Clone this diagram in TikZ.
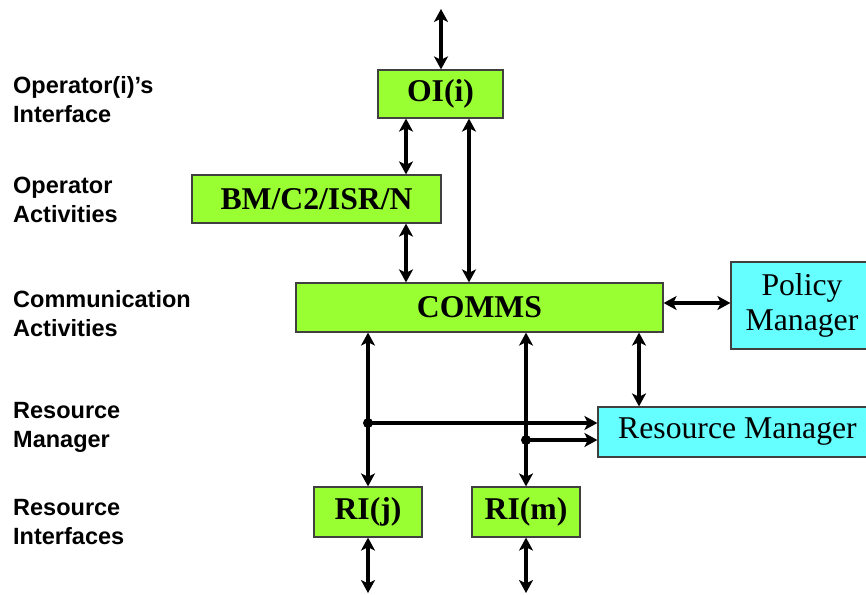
\documentclass[tikz,border=0pt]{standalone}
\usepackage{fontspec}
\setmainfont{Liberation Serif}
\newfontfamily\arialfont{Liberation Sans}
\usetikzlibrary{arrows.meta}
\newlength{\du}
\setlength{\du}{1pt}
\definecolor{boxgreen}{rgb}{0.600000, 1.000000, 0.200000}
\definecolor{boxcyan}{rgb}{0.400000, 1.000000, 1.000000}
\definecolor{boxline}{rgb}{0.250000, 0.250000, 0.250000}
\tikzset{
  >={Stealth[length=13pt,width=14pt,inset=3.5pt]},
  greenbox/.style={draw=boxline, line width=1.2pt, fill=boxgreen, inner sep=0pt,
    minimum height=48\du, font=\fontsize{31.7}{36}\selectfont\bfseries},
  cyanbox/.style={draw=boxline, line width=1.2pt, fill=boxcyan, inner sep=0pt,
    align=center, font=\fontsize{31.7}{35}\selectfont},
  layertext/.style={anchor=base west, align=left, inner sep=0pt,
    font=\arialfont\fontsize{23.5}{28.5}\selectfont\bfseries},
  dblarrow/.style={line width=4pt, <->},
  onearrow/.style={line width=4pt, ->},
  joint/.style={circle, fill=black, inner sep=0pt, minimum size=10pt}
}

\begin{document}
\begin{tikzpicture}
\pgftransformxscale{1.000000}
\pgftransformyscale{-1.000000}
\useasboundingbox (0\du,0\du) rectangle (866\du,594\du);
% layer names
\node[layertext] (lab-oi) at (13\du,122\du){Operator(i)’s\\Interface};
\node[layertext] (lab-op) at (13\du,222\du){Operator\\Activities};
\node[layertext] (lab-comm) at (13\du,336\du){Communication\\Activities};
\node[layertext] (lab-rm) at (13\du,447\du){Resource\\Manager};
\node[layertext] (lab-ri) at (13\du,544\du){Resource\\Interfaces};
% boxes
\node[greenbox, minimum width=125\du] (oi) at (440.5\du,94\du){OI(i)};
\node[greenbox, minimum width=249\du] (bm) at (316.5\du,199\du){BM/C2/ISR/N};
\node[greenbox, minimum width=367\du, minimum height=49\du] (comms) at (479.5\du,307.5\du){COMMS};
\node[cyanbox, minimum width=142\du, minimum height=87\du] (policy) at (802\du,305.5\du){Policy\\Manager};
\node[cyanbox, minimum width=279\du, minimum height=50\du] (resman) at (737.5\du,432\du){Resource Manager};
\node[greenbox, minimum width=108\du, minimum height=50\du] (rij) at (368\du,512\du){RI(j)};
\node[greenbox, minimum width=108\du, minimum height=50\du] (rim) at (526\du,512\du){RI(m)};
% helper points
\coordinate (top) at (441\du,9\du);
\coordinate (xbm) at (406\du,0\du);
\coordinate (xoi) at (469\du,0\du);
\coordinate (xrm) at (639\du,0\du);
\coordinate (ypol) at (0\du,303\du);
\coordinate (outj) at (368\du,593\du);
\coordinate (outm) at (526\du,593\du);
\node[joint] (dotj) at (368\du,423\du){};
\node[joint] (dotm) at (526\du,440\du){};
% connectors
\draw[dblarrow] (top) -- (oi.north -| top);
\draw[dblarrow] (oi.south -| xbm) -- (bm.north -| xbm);
\draw[dblarrow] (bm.south -| xbm) -- (comms.north -| xbm);
\draw[dblarrow] (oi.south -| xoi) -- (comms.north -| xoi);
\draw[dblarrow] (comms.east |- ypol) -- (policy.west |- ypol);
\draw[dblarrow] (comms.south -| xrm) -- (resman.north -| xrm);
\draw[dblarrow] (comms.south -| rij) -- (rij.north);
\draw[dblarrow] (comms.south -| rim) -- (rim.north);
\draw[onearrow] (dotj.center) -- (resman.west |- dotj);
\draw[onearrow] (dotm.center) -- (resman.west |- dotm);
\draw[dblarrow] (rij.south) -- (outj);
\draw[dblarrow] (rim.south) -- (outm);
\end{tikzpicture}
\end{document}
